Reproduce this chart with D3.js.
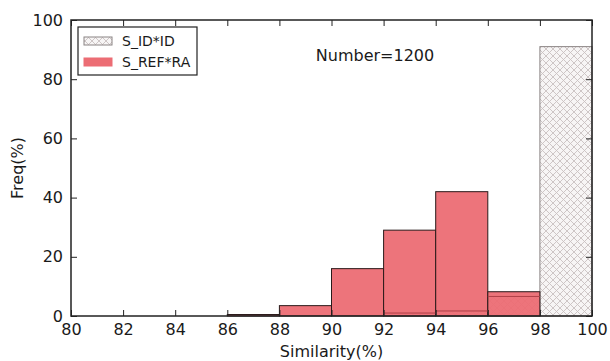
<!DOCTYPE html>
<html>
<head>
<meta charset="utf-8">
<script src="https://cdn.jsdelivr.net/npm/d3@7"></script>
<style>
  html, body { margin: 0; padding: 0; background: #fff; }
  svg { display: block; font-family: "DejaVu Sans", sans-serif; }
</style>
</head>
<body>
<svg id="chart" width="610" height="361"></svg>
<script>
// Histogram bins (left edges, width 2)
const binStarts = [80, 82, 84, 86, 88, 90, 92, 94, 96, 98];
const binWidth = 2;
// Frequency (%) per bin
const idValues  = [0, 0, 0, 0, 0, 0, 1, 1.7, 6.6, 91];
const refValues = [0, 0, 0, 0.5, 3.5, 16, 29, 42, 8.2, 0];
const seriesNames = ["S_ID*ID", "S_REF*RA"];
const xTicks = [80, 82, 84, 86, 88, 90, 92, 94, 96, 98, 100];
const yTicks = [0, 20, 40, 60, 80, 100];

const svg = d3.select("#chart");
const m = { left: 71, right: 18, top: 20, bottom: 45 };
const W = 610, H = 361;

const x = d3.scaleLinear().domain([80, 100]).range([m.left, W - m.right]);
const y = d3.scaleLinear().domain([0, 100]).range([H - m.bottom, m.top]);

// crosshatch pattern for the S_ID*ID bars
const defs = svg.append("defs");
const pat = defs.append("pattern")
  .attr("id", "hatch").attr("patternUnits", "userSpaceOnUse")
  .attr("width", 7).attr("height", 7);
pat.append("rect").attr("width", 7).attr("height", 7).attr("fill", "#f7f5f5");
pat.append("path").attr("d", "M0,0L7,7M7,0L0,7")
  .attr("stroke", "#c9c1c1").attr("stroke-width", 0.9);

// S_ID*ID bars
svg.append("g").selectAll("rect")
  .data(binStarts.map((b, i) => ({ b, v: idValues[i] })).filter(d => d.v > 0))
  .join("rect")
  .attr("x", d => x(d.b))
  .attr("width", d => x(d.b + binWidth) - x(d.b))
  .attr("y", d => y(d.v))
  .attr("height", d => y(0) - y(d.v))
  .attr("fill", "url(#hatch)")
  .attr("stroke", "#8a8383").attr("stroke-width", 1);

// S_REF*RA bars
svg.append("g").selectAll("rect")
  .data(binStarts.map((b, i) => ({ b, v: refValues[i] })).filter(d => d.v > 0))
  .join("rect")
  .attr("x", d => x(d.b))
  .attr("width", d => x(d.b + binWidth) - x(d.b))
  .attr("y", d => y(d.v))
  .attr("height", d => y(0) - y(d.v))
  .attr("fill", "#ec6d74").attr("fill-opacity", 0.95)
  .attr("stroke", "#2a1a1a").attr("stroke-width", 1);

// inner lines where the ID series shows through the red bars
svg.append("g").selectAll("line")
  .data(binStarts.map((b, i) => ({ b, v: idValues[i], r: refValues[i] })).filter(d => d.v > 0 && d.r > d.v))
  .join("line")
  .attr("x1", d => x(d.b)).attr("x2", d => x(d.b + binWidth))
  .attr("y1", d => y(d.v)).attr("y2", d => y(d.v))
  .attr("stroke", "#b04048").attr("stroke-width", 1);

// axes: ticks inside on all four sides
const tickLen = 6;
const fs = 16;
const gx = svg.append("g").attr("transform", `translate(0,${y(0)})`)
  .call(d3.axisBottom(x).tickValues(xTicks).tickSize(-tickLen).tickPadding(8));
const gxt = svg.append("g").attr("transform", `translate(0,${y(100)})`)
  .call(d3.axisTop(x).tickValues(xTicks).tickSize(-tickLen).tickFormat(""));
const gy = svg.append("g").attr("transform", `translate(${x(80)},0)`)
  .call(d3.axisLeft(y).tickValues(yTicks).tickSize(-tickLen).tickPadding(8));
const gyr = svg.append("g").attr("transform", `translate(${x(100)},0)`)
  .call(d3.axisRight(y).tickValues(yTicks).tickSize(-tickLen).tickFormat(""));
[gx, gxt, gy, gyr].forEach(g => {
  g.select(".domain").remove();
  g.selectAll(".tick line").attr("stroke", "#222");
  g.selectAll("text").attr("font-size", fs).attr("fill", "#1a1a1a")
    .attr("font-family", "DejaVu Sans, sans-serif");
});

// frame
svg.append("rect")
  .attr("x", x(80)).attr("y", y(100))
  .attr("width", x(100) - x(80)).attr("height", y(0) - y(100))
  .attr("fill", "none").attr("stroke", "#222").attr("stroke-width", 1.5);

// axis titles
svg.append("text").attr("x", (x(80) + x(100)) / 2).attr("y", 357)
  .attr("text-anchor", "middle").attr("font-size", fs).attr("fill", "#1a1a1a")
  .text("Similarity(%)");
svg.append("text")
  .attr("transform", `translate(23,${(y(0) + y(100)) / 2}) rotate(-90)`)
  .attr("text-anchor", "middle").attr("font-size", fs).attr("fill", "#1a1a1a")
  .text("Freq(%)");

// annotation
svg.append("text").attr("x", 375).attr("y", 61)
  .attr("text-anchor", "middle").attr("font-size", fs).attr("fill", "#1a1a1a")
  .text("Number=1200");

// legend
const lg = svg.append("g").attr("transform", "translate(78,27)");
lg.append("rect").attr("width", 119).attr("height", 48)
  .attr("fill", "#fff").attr("stroke", "#222").attr("stroke-width", 1.2);
const fills = ["url(#hatch)", "#ec6d74"];
const strokes = ["#8a8383", "#ec6d74"];
seriesNames.forEach((name, i) => {
  const yy = 14 + i * 21;
  lg.append("rect").attr("x", 6).attr("y", yy - 4).attr("width", 28).attr("height", 8)
    .attr("fill", fills[i]).attr("stroke", strokes[i]).attr("stroke-width", 1);
  lg.append("text").attr("x", 44).attr("y", yy + 5)
    .attr("font-size", 14).attr("fill", "#1a1a1a").text(name);
});
</script>
</body>
</html>
